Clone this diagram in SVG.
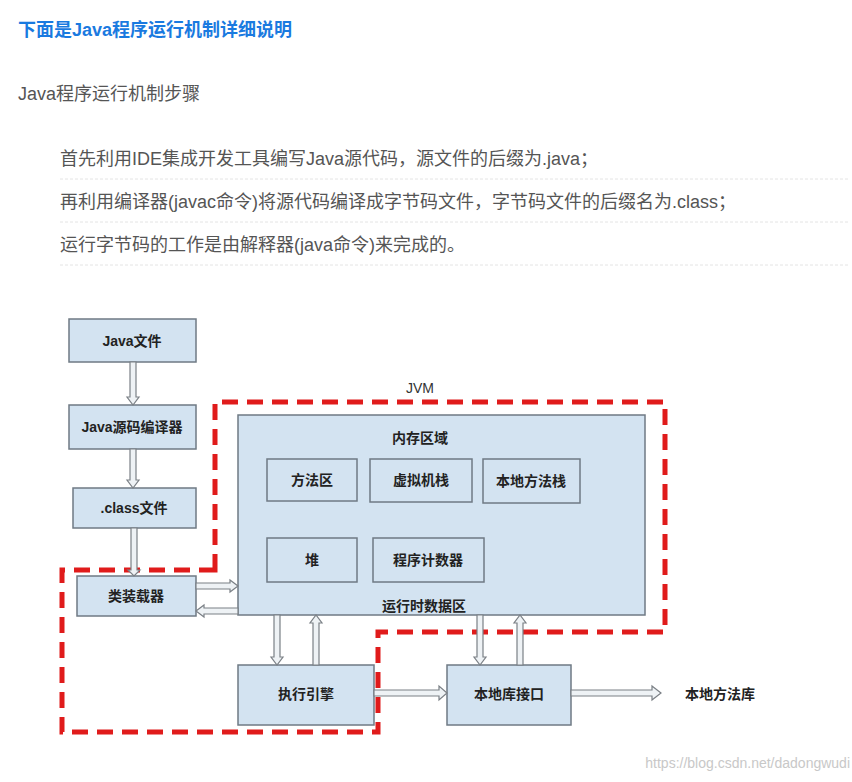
<svg xmlns="http://www.w3.org/2000/svg" width="852" height="782" viewBox="0 0 852 782">
<style>
text{font-family:"Liberation Sans","Noto Sans CJK SC",sans-serif}
.box{fill:#d3e3f1;stroke:#6f7a84;stroke-width:1.5}
.bt{font-size:14px;fill:#222;text-anchor:middle;font-weight:bold}
.ar{fill:#eef2f5;stroke:#7b8086;stroke-width:1.2}
.li{font-size:18px;fill:#555}
.sep{stroke:#e4e4e4;stroke-dasharray:3 2}
</style>
<rect width="852" height="782" fill="#fff"/>
<text x="18" y="36" font-size="18" font-weight="bold" fill="#1a7ae0">下面是Java程序运行机制详细说明</text>
<text x="18" y="100" class="li">Java程序运行机制步骤</text>
<text x="60" y="165" class="li">首先利用IDE集成开发工具编写Java源代码，源文件的后缀为.java；</text>
<text x="60" y="208" class="li">再利用编译器(javac命令)将源代码编译成字节码文件，字节码文件的后缀名为.class；</text>
<text x="60" y="251" class="li">运行字节码的工作是由解释器(java命令)来完成的。</text>
<g class="sep"><line x1="60" y1="179" x2="850" y2="179"/><line x1="60" y1="222" x2="850" y2="222"/><line x1="60" y1="265" x2="850" y2="265"/></g>
<g id="jvm-border"><path d="M215,570 V402 H665 V632 H378 V732 H62 V570 Z" fill="none" stroke="#e01b1b" stroke-width="5" stroke-dasharray="16 9"/>
<text x="420" y="393" font-size="14" fill="#333" text-anchor="middle">JVM</text></g>
<g id="runtime"><rect class="box" x="238" y="415" width="407" height="200"/>
<text class="bt" x="420" y="443">内存区域</text><text class="bt" x="424" y="611">运行时数据区</text></g>
<g id="java-file"><rect class="box" x="69" y="319" width="127" height="43"/><text class="bt" x="132" y="346">Java文件</text></g>
<g id="compiler"><rect class="box" x="69" y="405" width="127" height="44"/><text class="bt" x="132" y="432">Java源码编译器</text></g>
<g id="class-file"><rect class="box" x="73" y="488" width="123" height="40"/><text class="bt" x="134" y="513">.class文件</text></g>
<g id="loader"><rect class="box" x="77" y="576" width="119" height="40"/><text class="bt" x="136" y="601">类装载器</text></g>
<g id="method-area"><rect class="box" x="267" y="459" width="90" height="42"/><text class="bt" x="312" y="485">方法区</text></g>
<g id="vm-stack"><rect class="box" x="370" y="459" width="102" height="43"/><text class="bt" x="421" y="485">虚拟机栈</text></g>
<g id="native-stack"><rect class="box" x="483" y="459" width="97" height="44"/><text class="bt" x="531" y="486">本地方法栈</text></g>
<g id="heap"><rect class="box" x="267" y="538" width="90" height="44"/><text class="bt" x="312" y="565">堆</text></g>
<g id="pc"><rect class="box" x="373" y="538" width="111" height="44"/><text class="bt" x="428" y="565">程序计数器</text></g>
<g id="engine"><rect class="box" x="238" y="665" width="136" height="60"/><text class="bt" x="306" y="699">执行引擎</text></g>
<g id="native-if"><rect class="box" x="447" y="665" width="124" height="60"/><text class="bt" x="509" y="699">本地库接口</text></g>
<g id="native-lib"><text class="bt" x="720" y="699">本地方法库</text></g>
<g id="connectors">
<polygon class="ar" points="130,362 136,362 136,397 139,397 133,405 127,397 130,397"/>
<polygon class="ar" points="130,449 136,449 136,480 139,480 133,488 127,480 130,480"/>
<polygon class="ar" points="131,528 137,528 137,570 140,570 134,576 128,570 131,570"/>
<polygon class="ar" points="196,583 230,583 230,580 238,586 230,592 230,589 196,589"/>
<polygon class="ar" points="238,608 204,608 204,605 196,611 204,617 204,614 238,614"/>
<polygon class="ar" points="274,615 280,615 280,657 283,657 277,665 271,657 274,657"/>
<polygon class="ar" points="313,665 319,665 319,623 322,623 316,615 310,623 313,623"/>
<polygon class="ar" points="477,615 483,615 483,657 486,657 480,665 474,657 477,657"/>
<polygon class="ar" points="517,665 523,665 523,623 526,623 520,615 514,623 517,623"/>
<polygon class="ar" points="374,690 439,690 439,686 447,693 439,700 439,696 374,696"/>
<polygon class="ar" points="571,690 652,690 652,686 661,693 652,700 652,696 571,696"/>
</g>
<text x="850" y="768" font-size="14" fill="#c8c8c8" text-anchor="end">https://blog.csdn.net/dadongwudi</text>
</svg>
